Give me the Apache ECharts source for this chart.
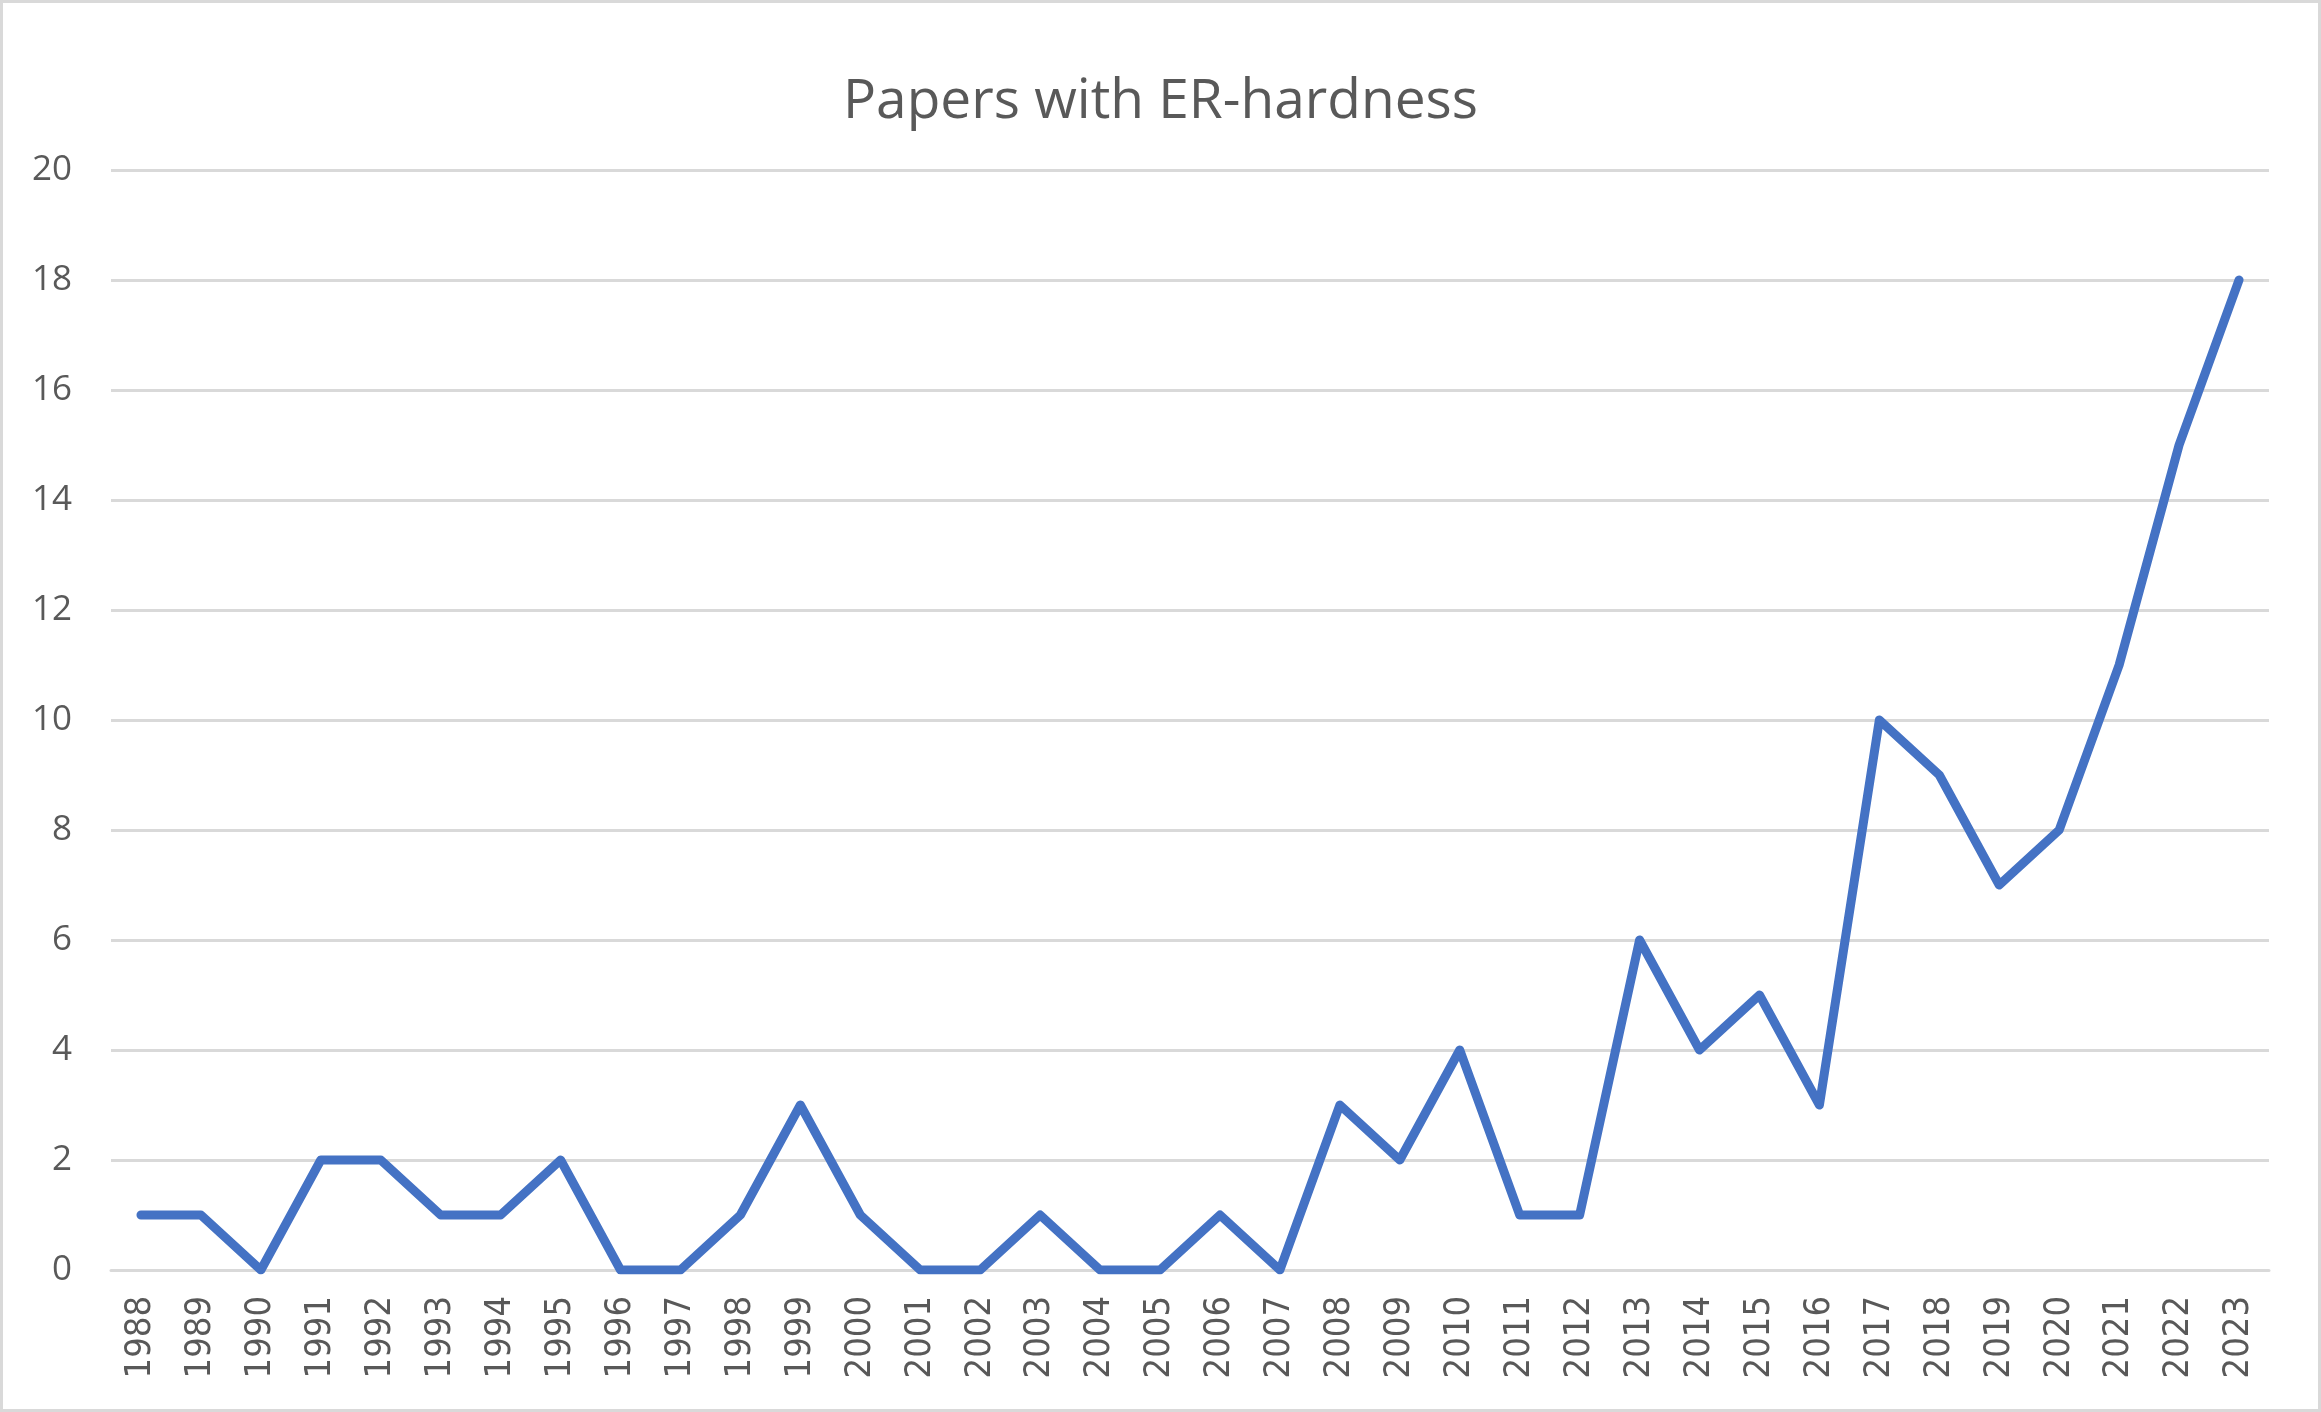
<!DOCTYPE html>
<html>
<head>
<meta charset="utf-8">
<style>
html,body{margin:0;padding:0;background:#fff;}
#chart{width:2321px;height:1412px;}
</style>
<script src="https://cdn.jsdelivr.net/npm/echarts@6/dist/echarts.min.js"></script>
</head>
<body>
<div id="chart"></div>
<script>
const years = ['1988','1989','1990','1991','1992','1993','1994','1995','1996','1997','1998','1999','2000','2001','2002','2003','2004','2005','2006','2007','2008','2009','2010','2011','2012','2013','2014','2015','2016','2017','2018','2019','2020','2021','2022','2023'];
const papers = [1,1,0,2,2,1,1,2,0,0,1,3,1,0,0,1,0,0,1,0,3,2,4,1,1,6,4,5,3,10,9,7,8,11,15,18];
const yTicks = {min:0, max:20, interval:2};
const chartTitle = 'Papers with ER-hardness';

const chart = echarts.init(document.getElementById('chart'));
chart.setOption({
  animation:false,
  backgroundColor:'#fff',
  title:{
    text:chartTitle,
    left:'center',
    top:70,
    textStyle:{fontFamily:'Open Sans',fontSize:55,fontWeight:'normal',color:'#595959'}
  },
  grid:{left:111,right:52,top:170,bottom:142,containLabel:false},
  xAxis:{
    type:'category',
    data:years,
    boundaryGap:true,
    axisLine:{show:true,lineStyle:{color:'#d9d9d9',width:3}},
    axisTick:{show:false},
    axisLabel:{rotate:90,margin:26,fontFamily:'DejaVu Sans Condensed',fontSize:36,color:'#595959',interval:0}
  },
  yAxis:{
    type:'value',
    min:yTicks.min,max:yTicks.max,interval:yTicks.interval,
    axisLine:{show:false},
    axisTick:{show:false},
    splitLine:{lineStyle:{color:'#d9d9d9',width:3}},
    axisLabel:{margin:39,fontFamily:'Open Sans',fontSize:35,color:'#595959'}
  },
  series:[{
    type:'line',
    data:papers,
    symbol:'none',
    lineStyle:{color:'#4472C4',width:9,cap:'round',join:'round'}
  }],
  graphic:[{
    type:'rect',
    silent:true,
    z:100,
    shape:{x:1.5,y:1.5,width:2318,height:1409},
    style:{fill:null,stroke:'#d9d9d9',lineWidth:3}
  }]
});
</script>
</body>
</html>
